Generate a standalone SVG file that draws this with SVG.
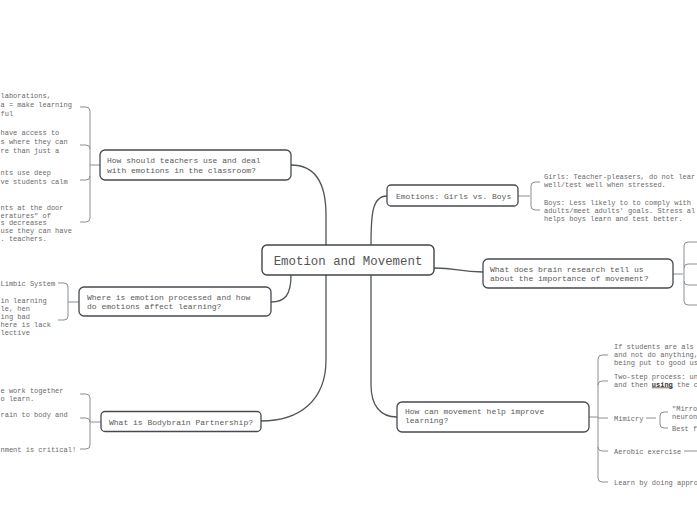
<svg xmlns="http://www.w3.org/2000/svg" width="697" height="520" viewBox="0 0 697 520">
<style>
.box{fill:#fff;stroke:#454b52;stroke-width:1.3}
.root{fill:#fff;stroke:#3f454c;stroke-width:1.4}
.nt{font-family:"Liberation Mono",monospace;font-size:8px;fill:#5a5a5a}
.rt{font-family:"Liberation Mono",monospace;font-size:12.4px;fill:#555}
.lt{font-family:"Liberation Mono",monospace;font-size:7px;fill:#6a6a6a}
.con{fill:none;stroke:#50565c;stroke-width:1.3}
.br{fill:none;stroke:#8a8f94;stroke-width:1}
.bru{font-weight:bold;text-decoration:underline;fill:#333}
</style>
<rect width="697" height="520" fill="#fff"/>
<g id="connectors">
<path class="con" d="M326,245 L326,215 C326,185 316,165 291,165"/>
<path class="con" d="M371,245 C371,215 372,196 387,196"/>
<path class="con" d="M291,275 C291,295 285,302 271,302"/>
<path class="con" d="M326,275 L326,360 C326,400 300,421 261,421"/>
<path class="con" d="M371,275 L371,385 C371,405 380,417 397,417"/>
<path class="con" d="M434,268 C458,268 458,272 483,272"/>
<path class="br" d="M100,165 H90 M80,107 H86 Q90,107 90,111 V218 Q90,222 86,222 H80 M80,145 H86 Q90,145 90,149 M80,180 H86 Q90,180 90,176"/>
<path class="br" d="M79,302 H68 M58,283 H64 Q68,283 68,287 V316 Q68,320 64,320 H58"/>
<path class="br" d="M101,422 H90 M80,394 H86 Q90,394 90,398 V445 Q90,449 86,449 H80 M80,418 H86 Q90,418 90,422"/>
<path class="br" d="M518,196 H530 M540,182 H535 Q531,182 531,186 V206 Q531,210 535,210 H540"/>
<path class="br" d="M673,274 H683 M697,242 H688 Q684,242 684,246 V301 Q684,305 688,305 H697 M697,264 H688 Q684,264 684,268 M697,285 H688 Q684,285 684,281"/>
<path class="br" d="M589,417 H598 M608,355 H602 Q598,355 598,359 V478 Q598,482 602,482 H608 M608,381 H602 Q598,381 598,385 M608,418 H598 M608,451 H602 Q598,451 598,447"/>
<path class="br" d="M646,418 H656 M668,412 H664 Q660,412 660,416 V424 Q660,428 664,428 H668"/>
<path class="br" d="M684,451 H697"/>
</g>
<g id="root">
<rect class="root" x="262" y="245" width="172" height="30" rx="5"/>
<text class="rt" x="348" y="264.5" text-anchor="middle">Emotion and Movement</text>
</g>
<g id="n-teachers">
<rect class="box" x="100" y="150" width="191" height="30" rx="5"/>
<text class="nt" x="107" y="163">How should teachers use and deal</text>
<text class="nt" x="107" y="172.5">with emotions in the classroom?</text>
</g>
<g id="n-teachers-leaves">
<text class="lt" x="0.5" y="98">laborations,</text>
<text class="lt" x="0.5" y="107">a = make learning</text>
<text class="lt" x="0.5" y="116">ful</text>
<text class="lt" x="0.5" y="135">have access to</text>
<text class="lt" x="0.5" y="144">s where they can</text>
<text class="lt" x="0.5" y="152.5">re than just a</text>
<text class="lt" x="0.5" y="174.5">nts use deep</text>
<text class="lt" x="0.5" y="183.5">ve students calm</text>
<text class="lt" x="0.5" y="209.5">nts at the door</text>
<text class="lt" x="0.5" y="217.5">eratures" of</text>
<text class="lt" x="0.5" y="225">s decreases</text>
<text class="lt" x="0.5" y="233">use they can have</text>
<text class="lt" x="0.5" y="241">. teachers.</text>
</g>
<g id="n-where">
<rect class="box" x="79" y="287" width="192" height="29" rx="5"/>
<text class="nt" x="87" y="299.5">Where is emotion processed and how</text>
<text class="nt" x="87" y="308.5">do emotions affect learning?</text>
</g>
<g id="n-where-leaves">
<text class="lt" x="0.5" y="285.5">Limbic System</text>
<text class="lt" x="0.5" y="303"> in learning</text>
<text class="lt" x="0.5" y="311">le, hen</text>
<text class="lt" x="0.5" y="319">ing bad</text>
<text class="lt" x="0.5" y="327">here is lack</text>
<text class="lt" x="0.5" y="335">lective</text>
</g>
<g id="n-bodybrain">
<rect class="box" x="101" y="411.5" width="160" height="20" rx="4"/>
<text class="nt" x="109" y="424.5">What is Bodybrain Partnership?</text>
</g>
<g id="n-bodybrain-leaves">
<text class="lt" x="0.5" y="392.5">e work together</text>
<text class="lt" x="0.5" y="400.5">o learn.</text>
<text class="lt" x="0.5" y="416.5">rain to body and</text>
<text class="lt" x="0.5" y="451.5">nment is critical!</text>
</g>
<g id="n-girls">
<rect class="box" x="387" y="185" width="131" height="21" rx="4"/>
<text class="nt" x="396" y="198.5">Emotions: Girls vs. Boys</text>
</g>
<g id="n-girls-leaves">
<text class="lt" x="544" y="178.5">Girls: Teacher-pleasers, do not lear</text>
<text class="lt" x="544" y="186.5">well/test well when stressed.</text>
<text class="lt" x="544" y="204.5">Boys: Less likely to to comply with</text>
<text class="lt" x="544" y="212.5">adults/meet adults' goals. Stress al</text>
<text class="lt" x="544" y="220.5">helps boys learn and test better.</text>
</g>
<g id="n-brain">
<rect class="box" x="483" y="259" width="190" height="29" rx="5"/>
<text class="nt" x="490" y="271.5">What does brain research tell us</text>
<text class="nt" x="490" y="280.5">about the importance of movement?</text>
</g>
<g id="n-movement">
<rect class="box" x="397" y="402" width="192" height="30" rx="5"/>
<text class="nt" x="405" y="413.5">How can movement help improve</text>
<text class="nt" x="405" y="423">learning?</text>
</g>
<g id="n-movement-leaves">
<text class="lt" x="614" y="348.5">If students are als</text>
<text class="lt" x="614" y="356.5">and not do anything,</text>
<text class="lt" x="614" y="364.5">being put to good us</text>
<text class="lt" x="614" y="378.5">Two-step process: un</text>
<text class="lt" x="614" y="386.5">and then <tspan class="bru">using</tspan> the c</text>
<text class="lt" x="614" y="420.5">Mimicry</text>
<text class="lt" x="672" y="410.5">"Mirro</text>
<text class="lt" x="672" y="418.5">neuron</text>
<text class="lt" x="672" y="430.5">Best f</text>
<text class="lt" x="614" y="453.5">Aerobic exercise</text>
<text class="lt" x="614" y="484.5">Learn by doing appro</text>
</g>
</svg>
